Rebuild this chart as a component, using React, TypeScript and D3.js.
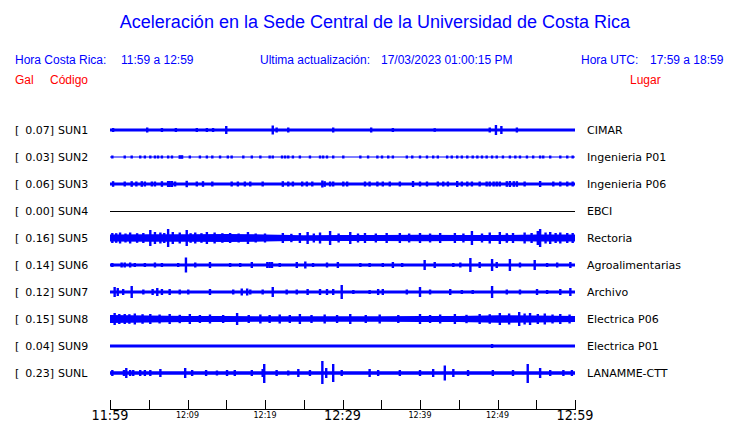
import React from "react";
import * as d3 from "d3";

// ---------- data ----------
const stations = ["SUN1", "SUN2", "SUN3", "SUN4", "SUN5", "SUN6", "SUN7", "SUN8", "SUN9", "SUNL"];
const peaks = ["0.07", "0.03", "0.06", "0.00", "0.16", "0.14", "0.12", "0.15", "0.04", "0.23"];
const places = ["CIMAR", "Ingenieria P01", "Ingenieria P06", "EBCI", "Rectoria", "Agroalimentarias", "Archivo", "Electrica P06", "Electrica P01", "LANAMME-CTT"];

// minutes after 11:59
const tickMinutes = d3.range(0, 61, 5);
const majorLabels: Record<number, string> = { 0: "11:59", 30: "12:29", 60: "12:59" };
const minorLabels: Record<number, string> = { 10: "12:09", 20: "12:19", 40: "12:39", 50: "12:49" };

// background envelope (counts) at 5-minute knots
const envSUN1 = [14, 14, 14, 14, 14, 14, 14, 14, 14, 14, 14, 14, 14];
const envSUN2 = [6, 6, 6, 6, 6, 6, 6, 6, 6, 6, 6, 6, 6];
const envSUN3 = [15, 15, 15, 15, 15, 15, 15, 15, 15, 15, 15, 15, 15];
const envSUN4 = [0, 0, 0, 0, 0, 0, 0, 0, 0, 0, 0, 0, 0];
const envSUN5 = [36, 38, 38, 40, 36, 28, 30, 31, 32, 31, 30, 34, 36];
const envSUN6 = [15, 15, 15, 15, 15, 15, 15, 15, 15, 15, 15, 15, 15];
const envSUN7 = [15, 15, 15, 15, 15, 15, 15, 15, 15, 15, 15, 15, 15];
const envSUN8 = [40, 34, 31, 29, 28, 28, 28, 28, 29, 31, 38, 34, 30];
const envSUN9 = [15, 15, 15, 15, 15, 15, 15, 15, 15, 15, 15, 15, 15];
const envSUNL = [18, 18, 18, 18, 18, 18, 18, 18, 18, 18, 18, 18, 18];

// events: [minute, amplitude up (counts), amplitude down (optional)]
const evSUN1 = [[0.4, 20], [4.8, 25], [6.7, 20], [8.5, 20], [11.2, 20], [12.5, 20], [13.3, 20], [15.0, 40], [21.0, 45], [21.5, 25], [23.0, 25], [28.8, 25], [33.7, 25], [36.5, 20], [41.9, 18], [49.0, 25], [49.8, 50], [50.5, 40], [52.5, 25]];
const evSUN2 = [[0.3, 15], [1.9, 15], [2.8, 15], [3.9, 15], [4.5, 15], [5.2, 15], [5.8, 15], [6.2, 15], [6.7, 15], [7.5, 15], [8.0, 15], [9.0, 18], [9.3, 18], [10.3, 15], [11.6, 15], [12.5, 15], [13.2, 15], [14.2, 15], [15.2, 15], [15.7, 15], [17.2, 15], [18.3, 15], [19.4, 15], [20.6, 15], [21.0, 15], [22.2, 15], [22.6, 15], [23.0, 15], [23.6, 15], [24.5, 15], [25.8, 15], [27.1, 15], [27.5, 15], [28.0, 15], [28.8, 15], [30.1, 15], [32.3, 15], [33.3, 15], [34.5, 15], [35.1, 15], [35.9, 15], [36.5, 15], [38.3, 15], [39.0, 15], [40.0, 15], [40.9, 15], [41.7, 15], [42.3, 15], [43.5, 15], [44.1, 15], [44.8, 15], [45.4, 15], [46.1, 15], [46.8, 15], [47.4, 15], [48.0, 15], [48.6, 15], [49.3, 15], [49.9, 15], [50.7, 15], [51.6, 15], [52.3, 15], [52.9, 15], [53.8, 15], [54.6, 15], [55.5, 15], [55.9, 15], [56.8, 15], [58.1, 15], [59.0, 15], [59.7, 15]];
const evSUN3 = [[0.4, 28], [1.9, 25], [2.8, 28], [3.4, 25], [4.1, 28], [4.5, 25], [5.4, 25], [5.8, 25], [6.7, 28], [7.5, 30], [7.7, 30], [8.0, 30], [8.4, 25], [9.9, 32], [11.2, 25], [12.0, 28], [13.2, 25], [15.7, 25], [16.5, 25], [17.4, 25], [18.1, 25], [19.7, 25], [22.3, 28], [23.0, 25], [23.6, 25], [24.8, 25], [25.4, 25], [26.1, 25], [27.4, 35], [27.7, 28], [28.4, 25], [28.8, 25], [30.1, 25], [30.6, 25], [32.9, 25], [33.5, 25], [34.5, 25], [35.2, 25], [36.1, 25], [37.4, 25], [39.1, 30], [40.0, 25], [40.9, 25], [42.3, 25], [43.0, 25], [43.6, 25], [44.8, 30], [45.4, 25], [46.1, 25], [46.7, 25], [47.7, 25], [48.6, 25], [49.0, 25], [49.5, 25], [49.9, 25], [50.3, 25], [51.2, 28], [51.6, 30], [52.1, 28], [52.5, 28], [53.5, 25], [55.5, 30], [57.2, 25], [58.1, 25], [59.0, 25], [59.7, 25]];
const evSUN4: number[][] = [];
const evSUN5 = [[0.3, 50], [0.8, 48], [1.3, 55], [2.0, 45], [2.6, 55], [3.5, 48], [4.3, 50], [5.2, 80], [5.8, 60], [6.5, 55], [7.0, 50], [7.5, 90], [8.1, 60], [9.0, 55], [9.9, 80], [10.4, 48], [11.0, 55], [11.8, 48], [12.5, 60], [13.5, 55], [14.5, 48], [15.5, 50], [16.6, 45], [17.8, 60], [18.8, 45], [20.0, 45], [22.3, 50], [23.4, 42], [24.5, 50], [25.5, 60], [26.3, 45], [27.1, 55], [28.4, 70], [29.5, 45], [31.0, 60], [32.0, 45], [32.9, 50], [34.3, 45], [35.7, 50], [37.4, 50], [38.6, 45], [40.0, 50], [41.3, 45], [42.6, 50], [44.5, 50], [45.6, 45], [46.7, 70], [48.0, 45], [49.0, 55], [50.3, 60], [51.2, 48], [52.0, 50], [53.5, 55], [54.4, 50], [55.2, 70], [55.5, 90], [56.2, 55], [56.8, 60], [57.5, 50], [58.1, 55], [59.0, 50], [59.7, 50]];
const evSUN6 = [[0.3, 20], [1.5, 25], [1.9, 25], [2.6, 25], [3.2, 20], [4.5, 20], [5.8, 25], [6.7, 20], [8.8, 20], [9.8, 75], [11.0, 25], [12.9, 30], [15.5, 20], [16.8, 20], [18.3, 30], [20.3, 30], [20.6, 30], [20.9, 30], [21.9, 20], [24.1, 30], [25.2, 35], [26.2, 20], [28.0, 25], [29.4, 30], [32.3, 20], [33.5, 20], [35.2, 20], [36.5, 30], [37.7, 20], [40.6, 50], [41.9, 30], [44.3, 20], [45.2, 25], [46.5, 70], [47.7, 30], [49.3, 60], [49.9, 30], [51.6, 60], [52.9, 25], [54.8, 50], [56.4, 20], [57.7, 25], [59.4, 30]];
const evSUN7 = [[0.6, 50], [1.0, 40], [1.7, 30], [2.8, 60], [4.3, 25], [5.5, 30], [6.1, 40], [6.7, 30], [7.7, 30], [9.0, 25], [10.1, 25], [12.9, 30], [15.9, 25], [17.0, 35], [17.7, 35], [18.1, 25], [19.7, 25], [21.0, 50], [22.8, 25], [24.1, 25], [25.5, 30], [27.1, 30], [28.0, 30], [28.8, 30], [29.9, 70], [31.4, 20], [33.5, 20], [34.6, 30], [35.2, 30], [38.3, 25], [40.0, 50], [41.3, 25], [43.9, 30], [45.4, 20], [46.8, 20], [49.3, 60], [51.2, 25], [52.9, 25], [55.1, 30], [56.4, 20], [58.1, 30], [59.4, 40]];
const evSUN8 = [[0.6, 60], [1.2, 50], [1.9, 50], [2.5, 48], [3.2, 55], [4.2, 48], [5.2, 50], [6.4, 45], [7.7, 50], [9.0, 42], [10.3, 50], [11.6, 40], [12.9, 45], [14.6, 40], [16.4, 60], [17.9, 40], [19.4, 45], [20.6, 40], [21.9, 45], [23.2, 40], [24.5, 50], [26.0, 40], [27.7, 45], [29.3, 40], [31.0, 50], [33.0, 40], [34.8, 45], [37.2, 40], [40.0, 50], [41.3, 40], [42.6, 45], [44.5, 50], [46.0, 42], [47.7, 50], [49.0, 48], [50.3, 60], [51.5, 55], [52.8, 70], [53.5, 55], [54.2, 60], [55.2, 50], [56.1, 55], [57.1, 45], [58.1, 50], [59.3, 45]];
const evSUN9 = [[49.3, 20]];
const evSUNL = [[0.3, 30], [1.8, 30], [2.1, 50], [2.6, 30], [3.0, 30], [3.9, 30], [4.5, 30], [5.2, 30], [6.5, 40], [9.7, 50], [10.6, 30], [12.4, 30], [13.8, 25], [15.1, 30], [16.1, 30], [18.3, 30], [19.7, 40], [19.9, 90, 100], [21.5, 30], [23.0, 25], [24.3, 40], [25.8, 30], [27.4, 120, 110], [27.9, 50], [28.8, 90], [29.9, 30], [33.5, 40], [34.6, 30], [37.4, 30], [40.0, 30], [41.7, 40], [43.2, 75], [44.3, 40], [46.2, 30], [49.4, 30], [52.0, 30], [53.9, 90, 100], [55.5, 50], [56.8, 30], [58.5, 30], [59.6, 30]];

const envelopes = [envSUN1, envSUN2, envSUN3, envSUN4, envSUN5, envSUN6, envSUN7, envSUN8, envSUN9, envSUNL];
const events = [evSUN1, evSUN2, evSUN3, evSUN4, evSUN5, evSUN6, evSUN7, evSUN8, evSUN9, evSUNL];

// ---------- chart ----------
const W = 740, H = 423;
const BLUE = "#0000ff";
const RED = "#ff0000";

export default function App() {
  const x = d3.scaleLinear().domain([0, 60]).range([110, 575]);
  const row = d3.scaleBand().domain(stations).range([116.5, 386.5]);
  const amp = d3.scaleLinear().domain([0, 100]).range([0, 10]);
  const knots = d3.range(0, 61, 5);

  return (
    <svg width={W} height={H} style={{ position: "absolute", left: 0, top: 0, background: "#fff" }}>
      <rect width={W} height={H} fill="#fff" />
      <text x={375} y={28} textAnchor="middle" fontFamily="Liberation Sans, Arial, sans-serif" fontSize={18} fill={BLUE}>
        Aceleración en la Sede Central de la Universidad de Costa Rica
      </text>
      <g fontFamily="Liberation Sans, Arial, sans-serif" fontSize={12}>
        <text x={15} y={64} fill={BLUE}>Hora Costa Rica:</text>
        <text x={121} y={64} fill={BLUE}>11:59 a 12:59</text>
        <text x={260} y={64} fill={BLUE}>Ultima actualización:</text>
        <text x={381} y={64} fill={BLUE}>17/03/2023 01:00:15 PM</text>
        <text x={581} y={64} fill={BLUE}>Hora UTC:</text>
        <text x={650} y={64} fill={BLUE}>17:59 a 18:59</text>
        <text x={15} y={84} fill={RED}>Gal</text>
        <text x={50} y={84} fill={RED}>Código</text>
        <text x={630} y={84} fill={RED}>Lugar</text>
      </g>
      {stations.map((s, i) => {
        const cy = (row(s) as number) + row.bandwidth() / 2;
        const env = envelopes[i];
        const area = d3
          .area<number>()
          .x((_, k) => x(knots[k]))
          .y0((d) => cy - amp(d))
          .y1((d) => cy + amp(d))
          .curve(d3.curveLinear);
        const flat = env.every((v) => v === 0);
        return (
          <g key={s}>
            <g fontFamily="DejaVu Sans, sans-serif" fontSize={11} fill="#000">
              <text x={15} y={cy + 4}>[</text>
              <text x={54} y={cy + 4} textAnchor="end">{peaks[i]}]</text>
              <text x={58} y={cy + 4}>{s}</text>
              <text x={587} y={cy + 4}>{places[i]}</text>
            </g>
            {flat ? (
              <line x1={x(0)} x2={x(60)} y1={cy + 0.5} y2={cy + 0.5} stroke="#000" strokeWidth={1} />
            ) : (
              <>
                <path d={area(env) as string} fill={BLUE} />
                {events[i].map((e, k) => {
                  const up = amp(e[1]);
                  const dn = amp(e.length > 2 ? e[2] : e[1]);
                  return (
                    <rect key={k} x={x(e[0]) - 1.2} width={2.4} y={cy - up} height={up + dn} fill={BLUE} />
                  );
                })}
              </>
            )}
          </g>
        );
      })}
      <g>
        <line x1={x(0)} x2={x(60)} y1={409.5} y2={409.5} stroke="#000" strokeWidth={1} />
        {tickMinutes.map((m) => (
          <line key={m} x1={Math.round(x(m)) + 0.5} x2={Math.round(x(m)) + 0.5} y1={400} y2={410} stroke="#000" strokeWidth={1} />
        ))}
        {Object.keys(majorLabels).map((k) => (
          <text key={k} x={x(+k)} y={419.5} textAnchor="middle" fontFamily="DejaVu Sans, sans-serif" fontSize={13.5} fill="#000" textLength={37} lengthAdjust="spacingAndGlyphs">
            {majorLabels[+k]}
          </text>
        ))}
        {Object.keys(minorLabels).map((k) => (
          <text key={k} x={x(+k)} y={418} textAnchor="middle" fontFamily="DejaVu Sans, sans-serif" fontSize={9} fill="#000" textLength={23} lengthAdjust="spacingAndGlyphs">
            {minorLabels[+k]}
          </text>
        ))}
      </g>
    </svg>
  );
}
